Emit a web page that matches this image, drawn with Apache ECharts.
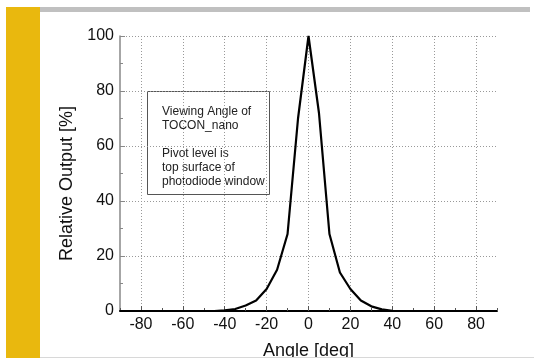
<!DOCTYPE html>
<html>
<head>
<meta charset="utf-8">
<script src="https://cdn.jsdelivr.net/npm/echarts@6/dist/echarts.min.js"></script>
<style>
  html, body { margin: 0; padding: 0; background: #fff; }
  #chart { width: 534px; height: 360px; }
</style>
</head>
<body>
<div id="chart"></div>
<script>
// angle [deg] and relative output [%]
const angles = [-90, -85, -80, -75, -70, -65, -60, -55, -50, -45, -40, -35, -30, -25, -20, -15, -10, -5, 0,
  5, 10, 15, 20, 25, 30, 35, 40, 45, 50, 55, 60, 65, 70, 75, 80, 85, 90];
const output = [0, 0, 0, 0, 0, 0, 0, 0, 0, 0, 0.2, 0.7, 2, 3.8, 8, 15, 28, 70, 100,
  72, 28, 14, 8, 3.8, 1.7, 0.6, 0.1, 0, 0, 0, 0, 0, 0, 0, 0, 0, 0];
const xTickLabels = [-80, -60, -40, -20, 0, 20, 40, 60, 80];
const noteLines = ['Viewing Angle of', 'TOCON_nano', '', 'Pivot level is', 'top surface of', 'photodiode window'];

const FONT = '"Liberation Sans", Arial, sans-serif';

const chart = echarts.init(document.getElementById('chart'));

const option = {
  backgroundColor: '#fff',
  animation: false,
  textStyle: { fontFamily: FONT },
  grid: { left: 120, top: 36, width: 377, height: 275, outerBoundsMode: 'none' },
  xAxis: [
    {
      type: 'value',
      min: -90,
      max: 90,
      name: 'Angle [deg]',
      nameLocation: 'middle',
      nameGap: 31,
      nameTextStyle: { fontSize: 18, color: '#111', fontFamily: FONT },
      axisLine: { onZero: false, lineStyle: { color: '#000', width: 2 } },
      axisTick: { customValues: xTickLabels, inside: true, length: 5, lineStyle: { color: '#555' } },
      axisLabel: { customValues: xTickLabels, fontSize: 16, color: '#111', margin: 6, fontFamily: FONT },
      splitLine: { show: true, lineStyle: { color: '#999', type: [1, 2], width: 1 } }
    },
    {
      // minor ticks every 10 deg
      type: 'value',
      min: -90,
      max: 90,
      interval: 10,
      position: 'bottom',
      axisLine: { show: false, onZero: false },
      axisTick: { inside: true, length: 3, lineStyle: { color: '#555' } },
      axisLabel: { show: false },
      splitLine: { show: false }
    }
  ],
  yAxis: {
    type: 'value',
    min: 0,
    max: 100,
    interval: 20,
    name: 'Relative Output [%]',
    nameLocation: 'middle',
    nameGap: 38,
    nameTextStyle: { fontSize: 18, color: '#111', fontFamily: FONT, padding: [0, 20, 0, 0] },
    axisLine: { show: true, onZero: false, lineStyle: { color: '#888', width: 1.5 } },
    axisTick: { inside: true, length: 5, lineStyle: { color: '#888' } },
    minorTick: { show: true, splitNumber: 2, length: 3, lineStyle: { color: '#888' } },
    axisLabel: { fontSize: 16, color: '#111', margin: 6, fontFamily: FONT },
    splitLine: { show: true, lineStyle: { color: '#999', type: [1, 2], width: 1 } }
  },
  series: [{
    type: 'line',
    data: angles.map((a, i) => [a, output[i]]),
    symbol: 'none',
    lineStyle: { color: '#000', width: 2.2 },
    z: 5
  }],
  graphic: [
    // page decoration
    { type: 'rect', shape: { x: 6, y: 7, width: 34, height: 351 }, style: { fill: '#E9B80E' }, z: 100 },
    { type: 'rect', shape: { x: 40, y: 7, width: 490, height: 5 }, style: { fill: '#C0C0C0' }, z: 100 },
    { type: 'rect', shape: { x: 0, y: 358, width: 534, height: 2 }, style: { fill: '#fff' }, z: 100 },
    { type: 'line', shape: { x1: 40, y1: 357.5, x2: 534, y2: 357.5 }, style: { stroke: '#D8D8D8', lineWidth: 1 }, z: 100 },
    // annotation box
    {
      type: 'group',
      z: 50,
      children: [
        { type: 'rect', shape: { x: 147.5, y: 91.5, width: 122, height: 103 }, style: { fill: '#fff', stroke: '#555', lineWidth: 1 } },
        {
          type: 'text',
          x: 162,
          y: 105,
          style: { text: noteLines.join('\n'), font: '12px ' + FONT, fill: '#222', lineHeight: 14 }
        }
      ]
    }
  ]
};

chart.setOption(option);
</script>
</body>
</html>
